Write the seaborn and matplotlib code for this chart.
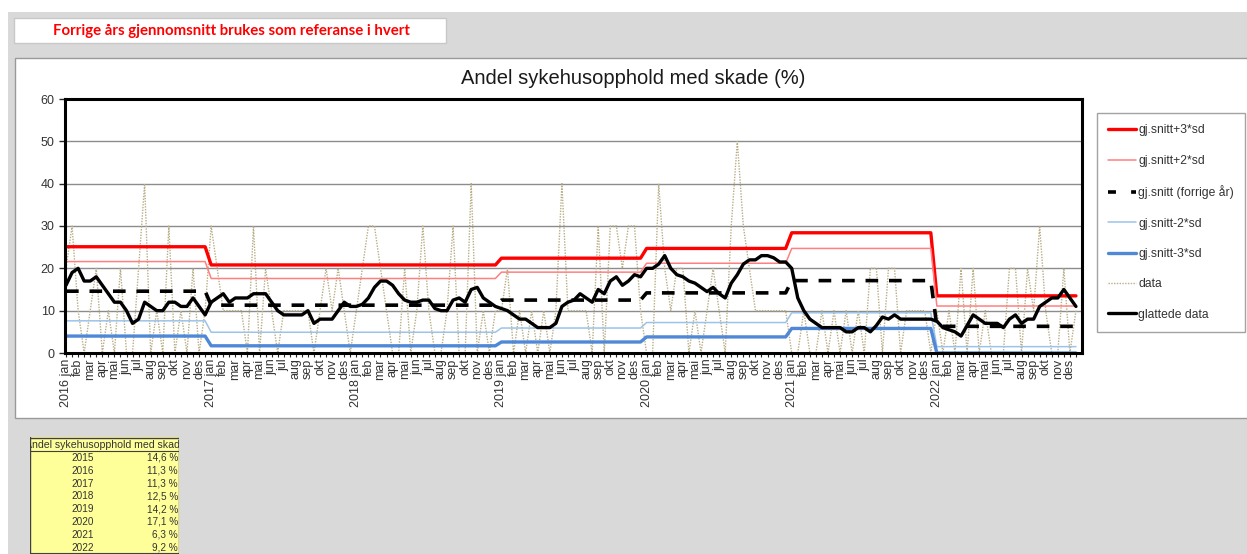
import numpy as np
import pandas as pd
import matplotlib.pyplot as plt
import seaborn as sns
from matplotlib.lines import Line2D
from matplotlib.patches import Rectangle

years = [2016, 2017, 2018, 2019, 2020, 2021, 2022]
months = ['jan', 'feb', 'mar', 'apr', 'mai', 'jun', 'jul', 'aug', 'sep', 'okt', 'nov', 'des']

# yearly reference values (previous year's mean and limits)
prev_mean = [14.6, 11.3, 11.3, 12.5, 14.2, 17.1, 6.3]
plus3 = [25.1, 20.8, 20.8, 22.4, 24.7, 28.4, 13.5]
plus2 = [21.6, 17.6, 17.6, 19.1, 21.2, 24.7, 11.1]
minus2 = [7.6, 4.9, 4.9, 5.9, 7.2, 9.5, 1.5]
minus3 = [4.0, 1.7, 1.7, 2.6, 3.8, 5.8, 0.0]

# two points per month
data = [20, 30, 10, 0, 10, 20, 0, 10, 0, 20,
        0, 0, 20, 40, 0, 10, 0, 30, 0, 10,
        0, 20, 0, 10, 30, 20, 10, 10, 10, 10,
        0, 30, 0, 20, 10, 0, 10, 10, 10, 10,
        10, 0, 10, 20, 10, 20, 10, 0, 10, 20,
        30, 30, 20, 10, 0, 0, 20, 0, 10, 30,
        10, 0, 0, 10, 30, 0, 0, 40, 0, 10,
        0, 10, 10, 20, 0, 10, 0, 10, 0, 10,
        0, 10, 40, 10, 10, 10, 10, 0, 30, 0,
        30, 30, 20, 30, 30, 10, 0, 0, 40, 20,
        10, 20, 20, 0, 10, 0, 10, 20, 10, 0,
        30, 50, 30, 20, 10, 10, 10, 10, 10, 10,
        0, 0, 10, 0, 0, 10, 0, 10, 0, 10,
        0, 10, 0, 20, 20, 0, 20, 20, 0, 10,
        10, 10, 10, 0, 10, 0, 10, 0, 20, 0,
        20, 0, 10, 0, 0, 0, 20, 20, 0, 20,
        10, 30, 10, 0, 0, 20, 0, 10]

smoothed = [16, 19, 20, 17, 17, 18, 16, 14, 12, 12,
            10, 7, 8, 12, 11, 10, 10, 12, 12, 11,
            11, 13, 11, 9, 12, 13, 14, 12, 13, 13,
            13, 14, 14, 14, 12, 10, 9, 9, 9, 9,
            10, 7, 8, 8, 8, 10, 12, 11, 11, 11.5,
            13, 15.5, 17, 17, 16, 14, 12.5, 12, 12, 12.5,
            12.5, 10.5, 10, 10, 12.5, 13, 12, 15, 15.5, 13,
            12, 11, 10.5, 10, 9, 8, 8, 7, 6, 6,
            6, 7, 11, 12, 12.5, 14, 13, 12, 15, 14,
            17, 18, 16, 17, 18.5, 18, 20, 20, 21, 23,
            20, 18.5, 18, 17, 16.5, 15.5, 14.5, 15.5, 14, 13,
            16.5, 18.5, 21, 22, 22, 23, 23, 22.5, 21.5, 21.5,
            20, 13, 10, 8, 7, 6, 6, 6, 6, 5,
            5, 6, 6, 5, 6.5, 8.5, 8, 9, 8, 8,
            8, 8, 8, 8, 7.5, 6, 5.5, 5, 4, 6.5,
            9, 8, 7, 7, 7, 6, 8, 9, 7, 8,
            8, 11, 12, 13, 13, 15, 13, 11]

table_years = [2015, 2016, 2017, 2018, 2019, 2020, 2021, 2022]
table_values = ['14,6 %', '11,3 %', '11,3 %', '12,5 %', '14,2 %', '17,1 %', '6,3 %', '9,2 %']

W, H = 1247, 554


def fx(x):
    return x / W


def fy(y):
    return 1 - y / H


sns.set_style('white')
plt.rcParams['font.family'] = ['Liberation Sans', 'DejaVu Sans']

steps = 2
n = len(years) * 12 * steps
df = pd.DataFrame({
    'x': np.arange(n),
    'plus3': np.repeat(plus3, 12 * steps),
    'plus2': np.repeat(plus2, 12 * steps),
    'mean': np.repeat(prev_mean, 12 * steps),
    'minus2': np.repeat(minus2, 12 * steps),
    'minus3': np.repeat(minus3, 12 * steps),
    'data': data,
    'smoothed': smoothed,
})

fig = plt.figure(figsize=(W / 100, H / 100), dpi=100, facecolor='white')

# grey sheet background, chart area, note box
fig.patches.append(Rectangle((fx(8), 0), 1, fy(12), transform=fig.transFigure,
                             facecolor='#d9d9d9', edgecolor='none', zorder=-10))
fig.patches.append(Rectangle((fx(15), fy(418)), 1, (418 - 58) / H, transform=fig.transFigure,
                             facecolor='white', edgecolor='#9a9a9a', linewidth=1, zorder=-9))
fig.patches.append(Rectangle((fx(14), fy(43)), (446 - 14) / W, 25 / H, transform=fig.transFigure,
                             facecolor='white', edgecolor='#c8c8c8', linewidth=1, zorder=-9))
fig.text(fx(231), fy(31), 'Forrige års gjennomsnitt brukes som referanse i hvert',
         color='#ff0000', fontweight='bold', fontsize=10.8, ha='center', va='center',
         family=['Lato', 'DejaVu Sans'])

ax = fig.add_axes([fx(65), fy(353), (1082 - 65) / W, (353 - 99) / H])

styles = [
    ('plus3', 'gj.snitt+3*sd', dict(color='#ff0000', linewidth=2.4)),
    ('plus2', 'gj.snitt+2*sd', dict(color='#ff8080', linewidth=1.1)),
    ('mean', 'gj.snitt (forrige år)', dict(color='black', linewidth=2.6, linestyle=(0, (3.5, 3)))),
    ('minus2', 'gj.snitt-2*sd', dict(color='#9cc3ea', linewidth=1.1)),
    ('minus3', 'gj.snitt-3*sd', dict(color='#4f88d6', linewidth=2.4)),
    ('data', 'data', dict(color='#b8ad85', linewidth=1.0, linestyle=(0, (1, 1)))),
    ('smoothed', 'glattede data', dict(color='black', linewidth=2.4)),
]
plot_order = ['data', 'plus3', 'plus2', 'minus2', 'minus3', 'mean', 'smoothed']
style_map = {k: s for k, _, s in styles}
for k in plot_order:
    sns.lineplot(data=df, x='x', y=k, ax=ax, legend=False, **style_map[k])

ax.set_xlim(-0.17, n)
ax.set_ylim(0, 60)
ax.set_yticks(range(0, 61, 10))
ax.tick_params(axis='y', labelsize=9, labelcolor='#333333', length=4, width=1, direction='out', left=True)
ax.yaxis.grid(True, color='#8c8c8c', linewidth=1)
ax.set_axisbelow(True)

labels = []
for y in years:
    for m in months:
        labels.append(f'{y} {m}' if m == 'jan' else m)
ax.set_xticks(np.arange(0, n, steps))
ax.set_xticklabels(labels, rotation=90, fontsize=9, color='#333333')
ax.set_xticks(np.arange(n), minor=True)
ax.tick_params(axis='x', which='both', length=3, width=0.8, direction='out', bottom=True, pad=1)
ax.set_xlabel('')
ax.set_ylabel('')
for s in ax.spines.values():
    s.set_color('black')
    s.set_linewidth(2.2)

fig.text(fx(633), fy(78), 'Andel sykehusopphold med skade (%)', ha='center', va='center',
         fontsize=14.5, color='#1a1a1a')

handles = []
for k, _, s in styles:
    hs = dict(s)
    if k == 'mean':
        hs['linestyle'] = (0, (2.2, 4.2))
    handles.append(Line2D([], [], **hs))
leg = fig.legend(handles, [lab for _, lab, _ in styles], loc='upper left',
                 bbox_to_anchor=(fx(1097), fy(113)), borderaxespad=0, fontsize=8.7,
                 frameon=True, fancybox=False, edgecolor='#8c8c8c', handlelength=2.3,
                 handletextpad=0.15, labelspacing=1.52, borderpad=0.95)
leg.get_frame().set_linewidth(1)
for t in leg.get_texts():
    t.set_color('#333333')

# small summary table
axt = fig.add_axes([fx(30), 0, (179 - 30) / W, (H - 437) / H])
axt.set_xlim(30, 179)
axt.set_ylim(554, 437)
axt.axis('off')
axt.add_patch(Rectangle((30, 437), 149, 117, facecolor='#ffff99', edgecolor='none'))
axt.plot([30, 179], [437.5, 437.5], color='#404040', linewidth=1)
axt.plot([30, 179], [451, 451], color='#404040', linewidth=0.8)
axt.plot([30, 30], [437, 554], color='#404040', linewidth=1)
axt.plot([178.5, 178.5], [437, 554], color='#404040', linewidth=1)
axt.plot([30, 179], [552.5, 552.5], color='#404040', linewidth=0.8)
axt.text(105, 445, 'Andel sykehusopphold med skade', ha='center', va='center', fontsize=7.6,
         color='#333333', clip_on=True)
for i, (yr, val) in enumerate(zip(table_years, table_values)):
    yy = 458 + i * 12.8
    axt.text(83, yy, str(yr), ha='center', va='center', fontsize=7.2, color='#333333')
    axt.text(178, yy, val, ha='right', va='center', fontsize=7.2, color='#333333', clip_on=True)

fig.savefig('out.png', dpi=100, facecolor=fig.get_facecolor())
